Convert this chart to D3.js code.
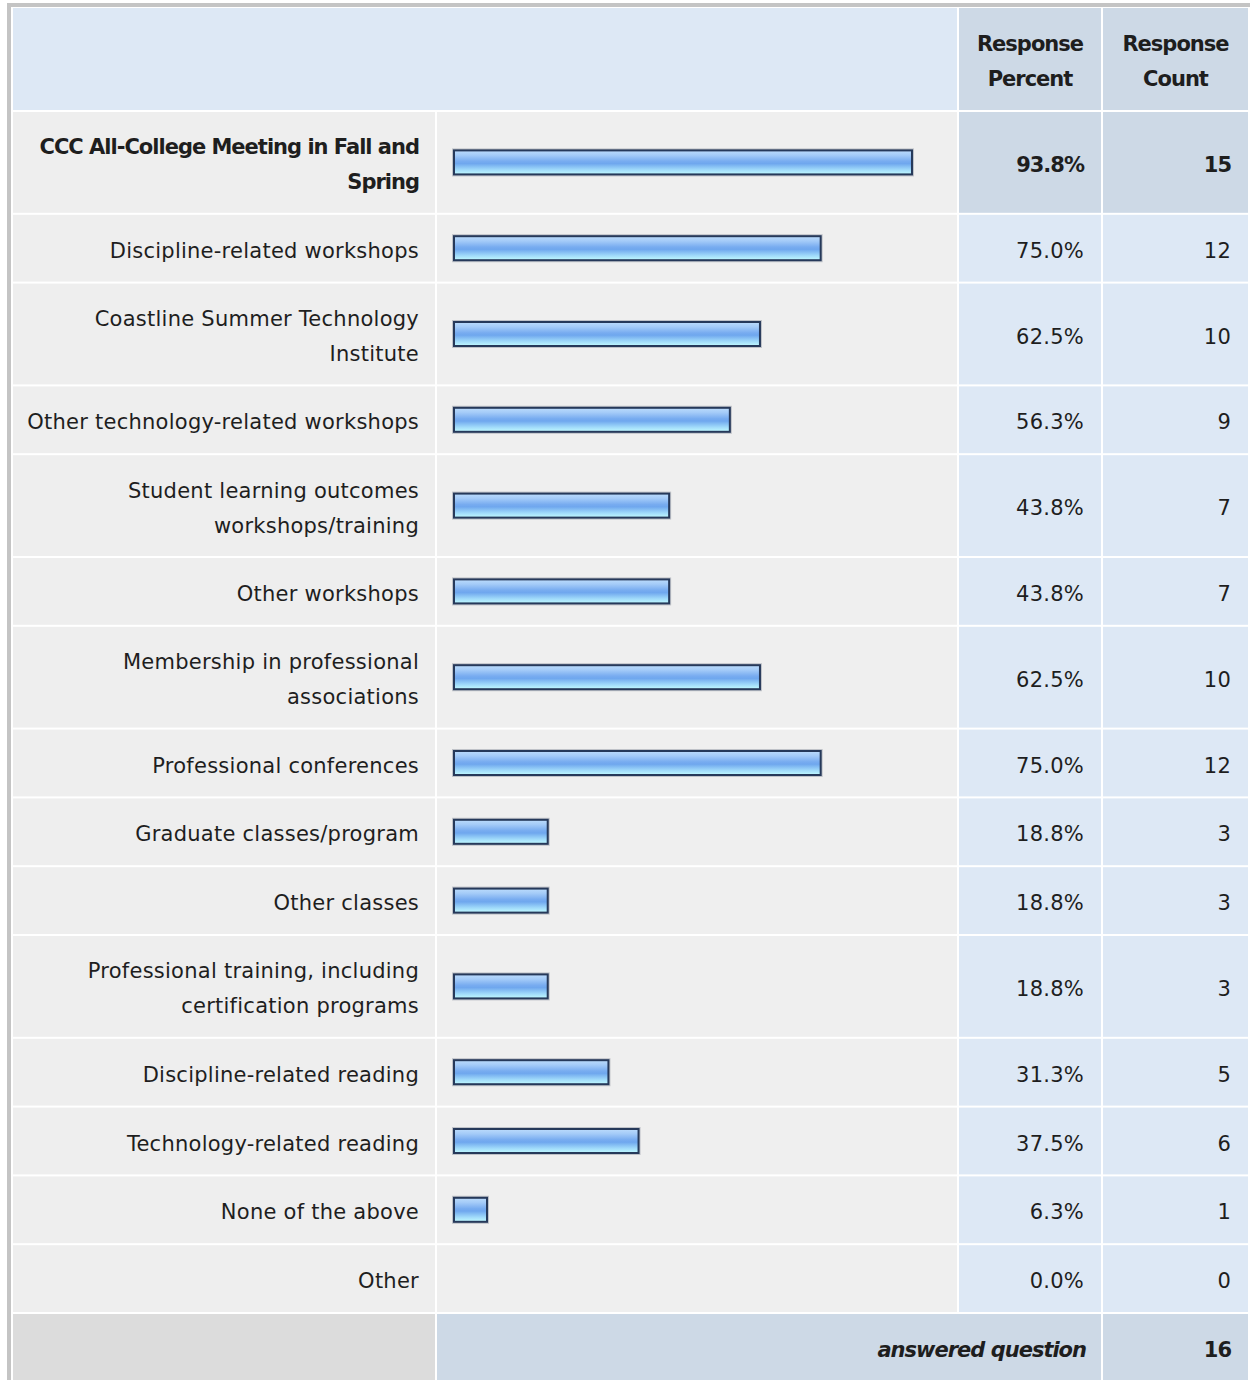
<!DOCTYPE html>
<html>
<head>
<meta charset="utf-8">
<script src="https://cdn.jsdelivr.net/npm/d3@7"></script>
<style>
  html, body { margin: 0; padding: 0; background: #ffffff; }
  svg { display: block; }
  text { font-family: "DejaVu Sans", Verdana, sans-serif; font-size: 21px; fill: #1e1e1e; letter-spacing: 0.25px; }
  .bold { font-weight: bold; letter-spacing: -1px; }
</style>
</head>
<body>
<div id="chart"></div>
<script>
// Survey answer options, in table order
const categories = [
  "CCC All-College Meeting in Fall and Spring",
  "Discipline-related workshops",
  "Coastline Summer Technology Institute",
  "Other technology-related workshops",
  "Student learning outcomes workshops/training",
  "Other workshops",
  "Membership in professional associations",
  "Professional conferences",
  "Graduate classes/program",
  "Other classes",
  "Professional training, including certification programs",
  "Discipline-related reading",
  "Technology-related reading",
  "None of the above",
  "Other"
];
// Response percent for each option
const percents = [93.8, 75.0, 62.5, 56.3, 43.8, 43.8, 62.5, 75.0, 18.8, 18.8, 18.8, 31.3, 37.5, 6.3, 0.0];
// Response count for each option
const counts = [15, 12, 10, 9, 7, 7, 10, 12, 3, 3, 3, 5, 6, 1, 0];
// Column headings and footer
const headerPercent = ["Response", "Percent"];
const headerCount = ["Response", "Count"];
const answeredLabel = "answered question";
const answeredCount = 16;
// The highlighted (bold) row
const highlightIndex = 0;

const W = 1250, H = 1380;
const gap = 2;
const cols = {
  label: [13, 435],
  bar: [437, 957],
  pct: [959, 1101],
  cnt: [1103, 1248]
};
const headerTop = 8, headerBottom = 110;
const lineStep = 34;
const rowHeight = lines => 32.8 + lineStep * lines;
const pad = 16;
const textDy = 2.5;

const colors = {
  border: "#c4c4c4",
  headLeft: "#dde8f5",
  headRight: "#cdd9e6",
  labelCell: "#eeeeee",
  barCell: "#efefef",
  valueCell: "#dde8f5",
  valueCellHi: "#cdd9e6",
  footLeft: "#dcdcdc",
  footRight: "#cdd9e6"
};

const svg = d3.select("#chart").append("svg")
  .attr("width", W).attr("height", H);

// gradient fill for the bars
const defs = svg.append("defs");
const grad = defs.append("linearGradient")
  .attr("id", "barFill").attr("x1", 0).attr("y1", 0).attr("x2", 0).attr("y2", 1);
[
  [0, "#bcdcfc"], [0.2, "#a4cbf8"], [0.45, "#78acf0"], [0.55, "#6fa7ee"],
  [0.8, "#9fd9fa"], [1, "#c2fbff"]
].forEach(([o, c]) => grad.append("stop").attr("offset", o).attr("stop-color", c));

svg.append("rect").attr("width", W).attr("height", H).attr("fill", "#ffffff");

// outer frame
svg.append("rect").attr("x", 7).attr("y", 3).attr("width", W).attr("height", H)
  .attr("fill", colors.border);
svg.append("rect").attr("x", 11).attr("y", 7).attr("width", W).attr("height", H)
  .attr("fill", "#ffffff");

const cell = (x0, x1, y0, y1, fill) =>
  svg.append("rect").attr("x", x0).attr("y", y0)
    .attr("width", x1 - x0).attr("height", y1 - y0).attr("fill", fill);

// word-wrap a label to the label column width
const measurer = svg.append("text").attr("x", -9999).attr("y", -9999);
function wrap(str, bold, maxW) {
  measurer.attr("class", bold ? "bold" : null);
  const words = str.split(" ");
  const lines = [];
  let cur = "";
  words.forEach(w => {
    const test = cur ? cur + " " + w : w;
    measurer.text(test);
    if (cur && measurer.node().getComputedTextLength() > maxW) {
      lines.push(cur);
      cur = w;
    } else cur = test;
  });
  if (cur) lines.push(cur);
  return lines;
}
const labelMax = 400;

const rows = categories.map((c, i) => ({
  label: c,
  pct: percents[i],
  cnt: counts[i],
  hi: i === highlightIndex,
  lines: wrap(c, i === highlightIndex, labelMax)
}));
measurer.remove();

let y = headerBottom + gap;
rows.forEach(r => {
  r.y0 = y;
  r.y1 = y + rowHeight(r.lines.length);
  r.cy = (r.y0 + r.y1) / 2;
  y = r.y1 + gap;
});
const footTop = y;
const footBottom = footTop + rowHeight(1);

// header cells
cell(cols.label[0], cols.bar[1], headerTop, headerBottom, colors.headLeft);
cell(cols.pct[0], cols.pct[1], headerTop, headerBottom, colors.headRight);
cell(cols.cnt[0], cols.cnt[1], headerTop, headerBottom, colors.headRight);

function multiline(lines, x, cy, anchor, cls) {
  const t = svg.append("text")
    .attr("text-anchor", anchor)
    .attr("class", cls || null);
  const n = lines.length;
  lines.forEach((s, k) => {
    t.append("tspan")
      .attr("x", x)
      .attr("y", cy + textDy + (k - (n - 1) / 2) * 35)
      .attr("dominant-baseline", "central")
      .text(s);
  });
  return t;
}
const headCy = (headerTop + headerBottom) / 2;
multiline(headerPercent, (cols.pct[0] + cols.pct[1]) / 2, headCy, "middle", "bold");
multiline(headerCount, (cols.cnt[0] + cols.cnt[1]) / 2, headCy, "middle", "bold");

// bar scale
const barLeft = cols.bar[0] + pad;
const x = d3.scaleLinear().domain([0, 100]).range([barLeft + 4.4, barLeft + 4.4 + 485.7]);
const barH = 26;

rows.forEach(r => {
  cell(cols.label[0], cols.label[1], r.y0, r.y1, colors.labelCell);
  cell(cols.bar[0], cols.bar[1], r.y0, r.y1, colors.barCell);
  cell(cols.pct[0], cols.pct[1], r.y0, r.y1, r.hi ? colors.valueCellHi : colors.valueCell);
  cell(cols.cnt[0], cols.cnt[1], r.y0, r.y1, r.hi ? colors.valueCellHi : colors.valueCell);

  multiline(r.lines, cols.label[1] - pad, r.cy, "end", r.hi ? "bold" : null);

  if (r.pct > 0) {
    const bx = barLeft + 1, by = r.cy - barH / 2 + 1;
    const bw = x(r.pct) - 1 - bx, bh = barH - 2;
    svg.append("rect")
      .attr("x", bx).attr("y", by).attr("width", bw).attr("height", bh)
      .attr("fill", "none").attr("stroke", "rgba(70,80,100,0.28)").attr("stroke-width", 4);
    svg.append("rect")
      .attr("x", bx).attr("y", by).attr("width", bw).attr("height", bh)
      .attr("fill", "url(#barFill)").attr("stroke", "#26395a").attr("stroke-width", 2);
  }

  svg.append("text")
    .attr("x", cols.pct[1] - 17).attr("y", r.cy + textDy)
    .attr("dominant-baseline", "central").attr("text-anchor", "end")
    .attr("class", r.hi ? "bold" : null)
    .text(d3.format(".1f")(r.pct) + "%");
  svg.append("text")
    .attr("x", cols.cnt[1] - 17).attr("y", r.cy + textDy)
    .attr("dominant-baseline", "central").attr("text-anchor", "end")
    .attr("class", r.hi ? "bold" : null)
    .text(r.cnt);
});

// footer
cell(cols.label[0], cols.label[1], footTop, footBottom, colors.footLeft);
cell(cols.bar[0], cols.pct[1], footTop, footBottom, colors.footRight);
cell(cols.cnt[0], cols.cnt[1], footTop, footBottom, colors.footRight);
const footCy = (footTop + footBottom) / 2;
svg.append("text")
  .attr("x", cols.pct[1] - 15).attr("y", footCy + textDy)
  .attr("dominant-baseline", "central").attr("text-anchor", "end")
  .attr("class", "bold").attr("font-style", "italic")
  .text(answeredLabel);
svg.append("text")
  .attr("x", cols.cnt[1] - 17).attr("y", footCy + textDy)
  .attr("dominant-baseline", "central").attr("text-anchor", "end")
  .attr("class", "bold")
  .text(answeredCount);
</script>
</body>
</html>
